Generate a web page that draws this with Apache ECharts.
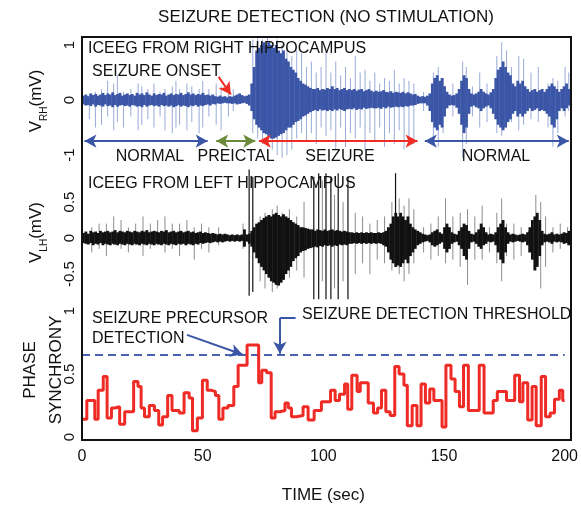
<!DOCTYPE html>
<html><head><meta charset="utf-8">
<script src="https://cdn.jsdelivr.net/npm/echarts@6/dist/echarts.min.js"></script>
<style>html,body{margin:0;padding:0;background:#fff}#c{width:581px;height:508px}</style>
</head><body><div id="c"></div>
<script>
// ---- Right hippocampus iEEG: per-second envelope of the dense trace (mV), t = 0..199 s
const rhHi = [
0.08,0.1,0.07,0.12,0.09,0.11,0.08,0.1,0.13,0.09,
0.12,0.1,0.14,0.09,0.11,0.13,0.08,0.1,0.12,0.09,
0.11,0.08,0.13,0.1,0.12,0.09,0.14,0.1,0.08,0.12,
0.09,0.11,0.1,0.13,0.08,0.1,0.12,0.09,0.11,0.1,
0.13,0.09,0.11,0.14,0.1,0.12,0.09,0.11,0.1,0.13,
0.09,0.1,0.08,0.1,0.07,0.06,0.08,0.06,0.07,0.05,
0.07,0.06,0.08,0.1,0.12,0.09,0.07,0.08,0.1,0.3,
0.6,0.9,0.95,1.0,1.05,1.0,1.05,1.0,0.95,1.0,
0.9,0.85,0.9,0.75,0.7,0.6,0.55,0.5,0.4,0.35,
0.3,0.28,0.25,0.22,0.2,0.2,0.22,0.18,0.2,0.19,
0.22,0.2,0.25,0.2,0.22,0.18,0.2,0.22,0.18,0.2,
0.18,0.2,0.17,0.19,0.2,0.16,0.18,0.2,0.17,0.15,
0.17,0.15,0.16,0.18,0.15,0.14,0.16,0.13,0.15,0.14,
0.13,0.15,0.12,0.14,0.12,0.1,0.11,0.08,0.06,0.07,
0.06,0.08,0.12,0.3,0.4,0.45,0.35,0.4,0.25,0.15,
0.1,0.08,0.09,0.12,0.2,0.35,0.45,0.4,0.2,0.12,
0.1,0.12,0.15,0.2,0.15,0.12,0.1,0.14,0.2,0.4,
0.55,0.6,0.7,0.6,0.5,0.45,0.3,0.25,0.35,0.3,
0.35,0.25,0.2,0.15,0.18,0.2,0.15,0.18,0.2,0.15,
0.2,0.25,0.3,0.25,0.2,0.15,0.2,0.25,0.3,0.2];
const rhLo = [
-0.08,-0.1,-0.09,-0.11,-0.08,-0.12,-0.09,-0.1,-0.12,-0.08,
-0.11,-0.1,-0.13,-0.09,-0.12,-0.1,-0.09,-0.11,-0.1,-0.12,
-0.09,-0.1,-0.12,-0.11,-0.13,-0.09,-0.12,-0.1,-0.09,-0.11,
-0.1,-0.12,-0.09,-0.11,-0.1,-0.12,-0.1,-0.13,-0.11,-0.09,
-0.12,-0.1,-0.11,-0.13,-0.1,-0.11,-0.09,-0.12,-0.1,-0.11,
-0.09,-0.08,-0.1,-0.07,-0.08,-0.06,-0.07,-0.06,-0.05,-0.06,
-0.06,-0.07,-0.06,-0.08,-0.07,-0.06,-0.05,-0.07,-0.1,-0.2,
-0.35,-0.45,-0.5,-0.55,-0.6,-0.62,-0.65,-0.7,-0.7,-0.68,
-0.65,-0.62,-0.6,-0.55,-0.5,-0.5,-0.45,-0.4,-0.38,-0.35,
-0.3,-0.28,-0.25,-0.22,-0.2,-0.18,-0.2,-0.17,-0.19,-0.18,
-0.2,-0.18,-0.2,-0.17,-0.19,-0.16,-0.18,-0.2,-0.17,-0.16,
-0.17,-0.15,-0.18,-0.16,-0.17,-0.14,-0.16,-0.15,-0.14,-0.15,
-0.15,-0.14,-0.16,-0.13,-0.15,-0.12,-0.14,-0.13,-0.12,-0.13,
-0.12,-0.13,-0.11,-0.12,-0.1,-0.1,-0.09,-0.07,-0.06,-0.06,
-0.06,-0.1,-0.2,-0.4,-0.5,-0.55,-0.45,-0.5,-0.3,-0.15,
-0.1,-0.09,-0.1,-0.14,-0.25,-0.45,-0.6,-0.5,-0.25,-0.12,
-0.1,-0.13,-0.15,-0.2,-0.15,-0.12,-0.1,-0.15,-0.25,-0.35,
-0.45,-0.5,-0.55,-0.5,-0.4,-0.35,-0.25,-0.2,-0.3,-0.25,
-0.3,-0.25,-0.2,-0.15,-0.2,-0.18,-0.15,-0.2,-0.18,-0.2,
-0.25,-0.3,-0.45,-0.5,-0.35,-0.2,-0.15,-0.2,-0.15,-0.1];
// isolated spikes: [time s, min mV, max mV]
const rhSpikes = [
[3,-0.35,0.1],[5.5,-0.5,0.15],[8,-0.45,0.2],[10.5,-0.3,0.35],[13,-0.55,0.3],[14.5,-0.4,0.45],[17,-0.5,0.15],[20,-0.3,0.2],
[23,-0.55,0.3],[24.5,-0.45,0.25],[27,-0.35,0.2],[29.5,-0.5,0.3],[32,-0.3,0.15],[34,-0.55,0.2],[37,-0.6,0.25],[38.5,-0.5,0.35],
[40,-0.45,0.2],[43,-0.55,0.3],[45,-0.4,0.25],[48,-0.6,0.2],[49.5,-0.5,0.35],[52,-0.3,0.2],[55,-0.45,0.3],[57,-0.55,0.25],
[60,-0.3,0.15],[62,-0.2,0.2],
[70,-0.6,1.1],[72,-0.7,1.15],[74,-0.8,1.1],[76,-0.85,1.15],[78,-0.9,1.05],[80,-1.0,1.1],[82,-1.05,1.0],[84,-1.0,0.95],
[86,-0.9,0.8],[88,-0.7,0.9],[90,-0.6,0.85],[92,-0.75,0.6],[94,-0.6,0.7],[96,-0.8,0.5],[98,-0.5,0.6],[100,-0.65,0.9],
[102,-0.55,0.5],[104,-0.9,0.7],[106,-0.5,0.45],[108,-0.85,0.6],[110,-0.6,0.4],[112,-0.7,0.8],[114,-0.5,0.5],[116,-0.9,0.55],
[118,-0.6,0.35],[120,-0.75,0.5],[122,-0.5,0.3],[124,-0.85,0.4],[126,-0.6,0.35],[128,-0.8,0.55],[130,-0.55,0.3],[132,-0.9,0.4],
[134,-0.7,0.35],[136,-0.8,0.3],
[140,-0.2,0.15],[144,-0.7,0.5],[146,-0.85,0.6],[148,-0.6,0.4],[152,-0.3,0.3],[156,-1.05,0.7],[157.5,-0.8,0.6],[160,-0.3,0.25],
[163,-0.5,0.5],[166,-0.4,0.3],[170,-0.6,0.8],[172,-0.65,1.05],[174,-0.5,0.9],[176,-0.4,0.6],[179,-0.55,0.8],[181,-0.45,0.75],
[184,-0.35,0.5],[187,-0.4,0.6],[191,-0.5,0.3],[193,-0.85,0.4],[195,-0.6,0.35],[198,-0.3,0.6],[199.5,-0.2,0.5]];

// ---- Left hippocampus iEEG
const lhHi = [
0.07,0.09,0.06,0.1,0.08,0.09,0.07,0.1,0.08,0.09,
0.1,0.08,0.09,0.11,0.08,0.1,0.09,0.08,0.1,0.09,
0.08,0.1,0.09,0.08,0.1,0.09,0.11,0.08,0.09,0.1,
0.09,0.08,0.1,0.09,0.11,0.08,0.09,0.1,0.08,0.09,
0.1,0.08,0.09,0.1,0.08,0.09,0.07,0.08,0.09,0.07,
0.08,0.07,0.06,0.07,0.06,0.05,0.06,0.05,0.06,0.05,
0.04,0.05,0.04,0.05,0.04,0.05,0.12,0.05,0.06,0.1,
0.15,0.2,0.22,0.25,0.28,0.3,0.32,0.3,0.33,0.35,
0.32,0.3,0.33,0.3,0.28,0.25,0.22,0.2,0.18,0.15,
0.15,0.14,0.13,0.12,0.12,0.1,0.12,0.11,0.1,0.12,
0.1,0.11,0.12,0.1,0.11,0.1,0.09,0.1,0.09,0.08,
0.08,0.07,0.08,0.07,0.08,0.07,0.08,0.07,0.08,0.07,
0.07,0.08,0.07,0.08,0.1,0.15,0.2,0.3,0.35,0.3,
0.35,0.3,0.25,0.3,0.2,0.15,0.12,0.1,0.08,0.06,
0.05,0.04,0.05,0.08,0.1,0.12,0.08,0.06,0.15,0.2,
0.15,0.08,0.06,0.05,0.1,0.15,0.2,0.18,0.1,0.06,
0.05,0.08,0.12,0.2,0.15,0.08,0.05,0.06,0.05,0.08,
0.15,0.2,0.25,0.15,0.08,0.05,0.06,0.05,0.04,0.05,
0.06,0.05,0.08,0.15,0.25,0.3,0.35,0.25,0.1,0.06,
0.05,0.06,0.08,0.05,0.06,0.05,0.06,0.08,0.07,0.1];
const lhLo = [
-0.07,-0.08,-0.09,-0.07,-0.1,-0.08,-0.09,-0.07,-0.1,-0.08,
-0.09,-0.1,-0.08,-0.09,-0.1,-0.08,-0.09,-0.1,-0.08,-0.09,
-0.1,-0.08,-0.09,-0.1,-0.08,-0.09,-0.1,-0.08,-0.09,-0.1,
-0.08,-0.09,-0.1,-0.08,-0.09,-0.1,-0.08,-0.09,-0.1,-0.08,
-0.09,-0.08,-0.1,-0.08,-0.09,-0.1,-0.08,-0.09,-0.07,-0.08,
-0.07,-0.06,-0.07,-0.06,-0.05,-0.06,-0.05,-0.06,-0.05,-0.04,
-0.05,-0.04,-0.05,-0.04,-0.05,-0.04,-0.12,-0.05,-0.08,-0.12,
-0.2,-0.28,-0.35,-0.4,-0.45,-0.5,-0.55,-0.6,-0.62,-0.65,
-0.66,-0.62,-0.58,-0.5,-0.45,-0.4,-0.32,-0.28,-0.25,-0.2,
-0.18,-0.17,-0.15,-0.14,-0.13,-0.12,-0.13,-0.11,-0.12,-0.1,
-0.11,-0.1,-0.12,-0.1,-0.11,-0.09,-0.1,-0.09,-0.1,-0.08,
-0.08,-0.07,-0.08,-0.07,-0.08,-0.07,-0.08,-0.07,-0.08,-0.07,
-0.08,-0.07,-0.08,-0.1,-0.12,-0.2,-0.3,-0.35,-0.4,-0.38,
-0.4,-0.35,-0.3,-0.35,-0.25,-0.2,-0.15,-0.1,-0.08,-0.06,
-0.05,-0.04,-0.06,-0.1,-0.12,-0.1,-0.08,-0.06,-0.15,-0.2,
-0.15,-0.08,-0.06,-0.05,-0.1,-0.15,-0.25,-0.3,-0.15,-0.06,
-0.05,-0.08,-0.12,-0.15,-0.1,-0.08,-0.05,-0.06,-0.05,-0.1,
-0.2,-0.3,-0.35,-0.2,-0.08,-0.05,-0.06,-0.05,-0.04,-0.05,
-0.06,-0.05,-0.1,-0.2,-0.3,-0.45,-0.4,-0.25,-0.1,-0.06,
-0.05,-0.06,-0.08,-0.05,-0.06,-0.05,-0.06,-0.08,-0.07,-0.1];
const lhSpikes = [
[4,-0.2,0.15],[7,-0.15,0.2],[10,-0.25,0.2],[13,-0.1,0.3],[16,-0.15,0.25],[19,-0.2,0.15],[22,-0.1,0.2],[25,-0.25,0.3],
[28,-0.15,0.2],[31,-0.1,0.25],[34,-0.2,0.3],[37,-0.15,0.2],[40,-0.25,0.2],[43,-0.1,0.25],[46,-0.3,0.15],[49,-0.15,0.2],
[52,-0.2,0.15],[56,-0.1,0.15],[66,-0.15,0.2],
[73,-0.6,0.3],[75,-0.7,0.35],[78,-0.75,0.4],[80,-0.7,0.45],[82,-0.6,0.35],[85,-0.55,0.4],[88,-0.45,0.3],[91,-0.55,0.5],
[98.5,-0.6,0.8],[103.5,-0.7,0.6],[107,-0.6,0.5],[112,-0.5,0.35],[115,-0.35,0.3],[118,-0.5,0.2],[121,-0.3,0.25],[124,-0.35,0.3],
[127,-0.45,0.5],[130,-0.5,0.55],[132,-0.6,0.45],[134,-0.5,0.55],[136,-0.35,0.4],
[140,-0.2,0.15],[143,-0.3,0.2],[146,-0.25,0.3],[149,-0.35,0.55],[152,-0.3,0.3],[155,-0.4,0.35],[158,-0.65,0.4],[161,-0.3,0.3],
[164,-0.3,0.45],[167,-0.2,0.15],[170,-0.35,0.35],[172,-0.6,0.55],[174,-0.25,0.2],[177,-0.3,0.2],[180,-0.25,0.15],[183,-0.2,0.1],
[186,-0.45,0.6],[188,-0.7,0.5],[190,-0.4,0.3],[193,-0.2,0.15],[196,-0.15,0.2],[199,-0.1,0.15]];
const lhDarkSpikes = [
[68.5,-0.8,0.95],[70,-0.75,0.85],[95,-0.85,0.85],[97,-0.85,0.9],[100,-0.85,0.9],[102,-0.85,0.85],[105,-0.85,0.9],[109,-0.85,0.85],
[128.5,-0.4,0.9]];

// ---- Phase synchrony (step function): change times (s) and values
const stepT = [0,2,5.3,6.7,8.8,10.4,12.2,13.6,15.6,17.7,21.4,23.2,24.5,25.9,27.9,30,31.8,33.4,35.5,37.3,
40.3,42.3,44.4,45.8,47.8,49.9,51.9,53.7,55.3,56.7,58.4,60.5,62.9,64.7,68.4,73.2,74.5,76.5,78.4,80,
82,84.1,85.5,86.8,88.9,91.6,93.7,96.2,99.2,103,104.9,106.7,108.8,110.1,111.8,114,115.3,118.6,120.8,122.5,
124.1,125.9,127.7,129.6,131.4,133.4,134.8,136.8,138.8,140.5,142.3,144.1,145.8,149.2,150.8,152.9,154.6,156.4,158.1,160.1,
164.6,166.6,170.4,172.1,175.9,179.3,181.3,182.7,184.7,186.5,188.2,190.3,192.1,194,195.8,197.8,199.2,200];
const stepV = [0.14,0.29,0.14,0.37,0.48,0.15,0.23,0.24,0.10,0.20,0.44,0.40,0.23,0.16,0.25,0.21,0.095,0.16,0.33,0.21,
0.19,0.35,0.31,0.05,0.15,0.45,0.37,0.36,0.33,0.14,0.23,0.25,0.40,0.57,0.73,0.43,0.53,0.51,0.15,0.20,
0.21,0.27,0.23,0.16,0.17,0.24,0.135,0.21,0.28,0.37,0.29,0.34,0.42,0.22,0.49,0.36,0.43,0.27,0.19,0.23,
0.37,0.20,0.17,0.56,0.50,0.41,0.09,0.25,0.09,0.42,0.27,0.38,0.29,0.08,0.57,0.46,0.36,0.24,0.57,0.21,
0.57,0.19,0.29,0.36,0.29,0.49,0.28,0.43,0.135,0.40,0.09,0.48,0.16,0.19,0.30,0.37,0.29,0.29];
const threshold = 0.65;

// ---- Axis tick labels
const xTicks = [0,50,100,150,200];
const yTicksRH = [-1,0,1];
const yTicksLH = [-0.5,0,0.5];
const yTicksPS = [0,0.5,1];

const FONT = '"Liberation Sans", Arial, Helvetica, sans-serif';
const BLUE = '#3b56a6', BLUE_L = '#9aabd8', RED = '#ee2b25', GREEN = '#6b8a3a';

function bins(hi, lo){ return hi.map((h,i)=>[i, lo[i], h]); }
function coreSeries(idx, hi, lo, color){
  return {type:'custom', xAxisIndex:idx, yAxisIndex:idx, silent:true, animation:false, z:2,
    encode:{x:0,y:[1,2]}, data:bins(hi,lo),
    renderItem:(p,api)=>{ const a=api.coord([api.value(0),api.value(2)]); const b=api.coord([api.value(0)+1,api.value(1)]);
      return {type:'rect', shape:{x:a[0],y:a[1],width:b[0]-a[0]+0.4,height:b[1]-a[1]}, style:{fill:color}}; }};
}
function spikeSeries(idx, data, color, w){
  return {type:'custom', xAxisIndex:idx, yAxisIndex:idx, silent:true, animation:false, z:1,
    encode:{x:0,y:[1,2]}, data:data,
    renderItem:(p,api)=>{ const a=api.coord([api.value(0),api.value(2)]); const b=api.coord([api.value(0),api.value(1)]);
      return {type:'line', shape:{x1:a[0],y1:a[1],x2:b[0],y2:b[1]}, style:{stroke:color,lineWidth:w}}; }};
}
function arrowLine(a,b,color,syms){ return [{coord:a, symbol:syms[0], lineStyle:{color:color,width:2,type:'solid'}},{coord:b, symbol:syms[1]}]; }

const gridL = 82, gridR = 11;
const yLabel = (vals)=>({show:true, customValues:vals, rotate:90, fontSize:15, color:'#111', fontFamily:FONT, margin:5});
const subRich = {v:{fontSize:17,fontFamily:FONT,color:'#111',lineHeight:20},
  s:{fontSize:10,fontFamily:FONT,color:'#111',lineHeight:20,verticalAlign:'bottom',padding:[0,0,-3,0]}};

const option = {
  animation:false,
  backgroundColor:'#fff',
  grid:[
    {left:gridL, right:gridR, top:37, height:128},
    {left:gridL, right:gridR, top:165, height:135},
    {left:gridL, right:gridR, top:300, height:140}
  ],
  xAxis:[0,1,2].map(i=>({type:'value', gridIndex:i, min:0, max:200, interval:50,
    axisLine:{show:false}, axisTick:{show:false}, splitLine:{show:false},
    axisLabel:{show:i===2, fontSize:16, color:'#111', fontFamily:FONT, margin:9,
      customValues:xTicks, formatter:v=>String(v)},
    name:i===2?'TIME (sec)':'', nameLocation:'middle', nameGap:47, nameMoveOverlap:false,
    nameTextStyle:{fontSize:17, color:'#111', fontFamily:FONT}})),
  yAxis:[
    {type:'value', gridIndex:0, min:-1.18, max:1.145, splitLine:{show:false}, axisLine:{show:false}, axisTick:{show:false},
     axisLabel:yLabel(yTicksRH),
     name:'{v|V}{s|RH}{v|(mV)}', nameLocation:'middle', nameGap:36, nameMoveOverlap:false,
     nameTextStyle:{color:'#111', fontFamily:FONT, rich:subRich}},
    {type:'value', gridIndex:1, min:-0.86, max:1.014, splitLine:{show:false}, axisLine:{show:false}, axisTick:{show:false},
     axisLabel:yLabel(yTicksLH),
     name:'{v|V}{s|LH}{v|(mV)}', nameLocation:'middle', nameGap:36, nameMoveOverlap:false,
     nameTextStyle:{color:'#111', fontFamily:FONT, rich:subRich}},
    {type:'value', gridIndex:2, min:-0.024, max:1.087, splitLine:{show:false}, axisLine:{show:false}, axisTick:{show:false},
     axisLabel:yLabel(yTicksPS),
     name:'PHASE\nSYNCHRONY', nameLocation:'middle', nameGap:13, nameMoveOverlap:false,
     nameTextStyle:{fontSize:17, lineHeight:26, color:'#111', fontFamily:FONT}}
  ],
  series:[
    spikeSeries(0, rhSpikes, BLUE_L, 1),
    coreSeries(0, rhHi, rhLo, BLUE),
    {type:'line', xAxisIndex:0, yAxisIndex:0, data:[], silent:true, z:3,
     markLine:{silent:true, animation:false, symbolSize:[10,12], label:{show:false},
       data:[
         arrowLine([1,-0.745],[51.5,-0.745],BLUE,['arrow','arrow']),
         arrowLine([55,-0.745],[71,-0.745],GREEN,['arrow','arrow']),
         arrowLine([72.5,-0.745],[137.5,-0.745],RED,['arrow','arrow']),
         arrowLine([140.5,-0.745],[199.5,-0.745],BLUE,['arrow','arrow']),
         arrowLine([56,0.42],[61,0.1],RED,['none','arrow'])
       ]}},
    spikeSeries(1, lhSpikes, '#8c8c8c', 1),
    coreSeries(1, lhHi, lhLo, '#111'),
    spikeSeries(1, lhDarkSpikes, '#111', 1.2),
    {type:'line', xAxisIndex:2, yAxisIndex:2, showSymbol:false, silent:true, z:2,
     data:[[0,threshold],[200,threshold]],
     lineStyle:{color:'#4a62ae', width:2, type:[8,5]}},
    {type:'line', xAxisIndex:2, yAxisIndex:2, step:'end', showSymbol:false, silent:true, z:3,
     data:stepT.map((t,i)=>[t,stepV[i]]),
     lineStyle:{color:RED, width:3},
     markLine:{silent:true, animation:false, symbolSize:[10,12], label:{show:false},
       data:[
         arrowLine([43.5,0.81],[66.5,0.655],BLUE,['none','arrow']),
         arrowLine([88.5,0.945],[82,0.945],BLUE,['none','none']),
         arrowLine([82,0.945],[82,0.66],BLUE,['none','arrow'])
       ]}}
  ],
  graphic:[
    {type:'rect', shape:{x:82,y:37,width:489,height:403}, style:{fill:null, stroke:'#111', lineWidth:2}, z:100, silent:true},
    {type:'text', x:326, y:17, style:{text:'SEIZURE DETECTION (NO STIMULATION)', font:'17px '+FONT, fill:'#111', textAlign:'center', textVerticalAlign:'middle'}},
    {type:'text', x:88, y:49, style:{text:'ICEEG FROM RIGHT HIPPOCAMPUS', font:'16px '+FONT, fill:'#111', textVerticalAlign:'middle'}, z:50},
    {type:'text', x:92, y:72, style:{text:'SEIZURE ONSET', font:'16px '+FONT, fill:'#111', textVerticalAlign:'middle'}, z:50},
    {type:'text', x:150, y:157, style:{text:'NORMAL', font:'16px '+FONT, fill:'#111', textAlign:'center', textVerticalAlign:'middle'}, z:50},
    {type:'text', x:236, y:157, style:{text:'PREICTAL', font:'16px '+FONT, fill:'#111', textAlign:'center', textVerticalAlign:'middle'}, z:50},
    {type:'text', x:340, y:157, style:{text:'SEIZURE', font:'16px '+FONT, fill:'#111', textAlign:'center', textVerticalAlign:'middle'}, z:50},
    {type:'text', x:496, y:157, style:{text:'NORMAL', font:'16px '+FONT, fill:'#111', textAlign:'center', textVerticalAlign:'middle'}, z:50},
    {type:'text', x:88, y:184, style:{text:'ICEEG FROM LEFT HIPPOCAMPUS', font:'16px '+FONT, fill:'#111', textVerticalAlign:'middle'}, z:50},
    {type:'text', x:92, y:319, style:{text:'SEIZURE PRECURSOR', font:'16px '+FONT, fill:'#111', textVerticalAlign:'middle'}, z:50},
    {type:'text', x:92, y:339, style:{text:'DETECTION', font:'16px '+FONT, fill:'#111', textVerticalAlign:'middle'}, z:50},
    {type:'text', x:302, y:315, style:{text:'SEIZURE DETECTION THRESHOLD', font:'16px '+FONT, fill:'#111', textVerticalAlign:'middle'}, z:50}
  ]
};
const chart = echarts.init(document.getElementById('c'), null, {renderer:'canvas'});
chart.setOption(option);
</script></body></html>
